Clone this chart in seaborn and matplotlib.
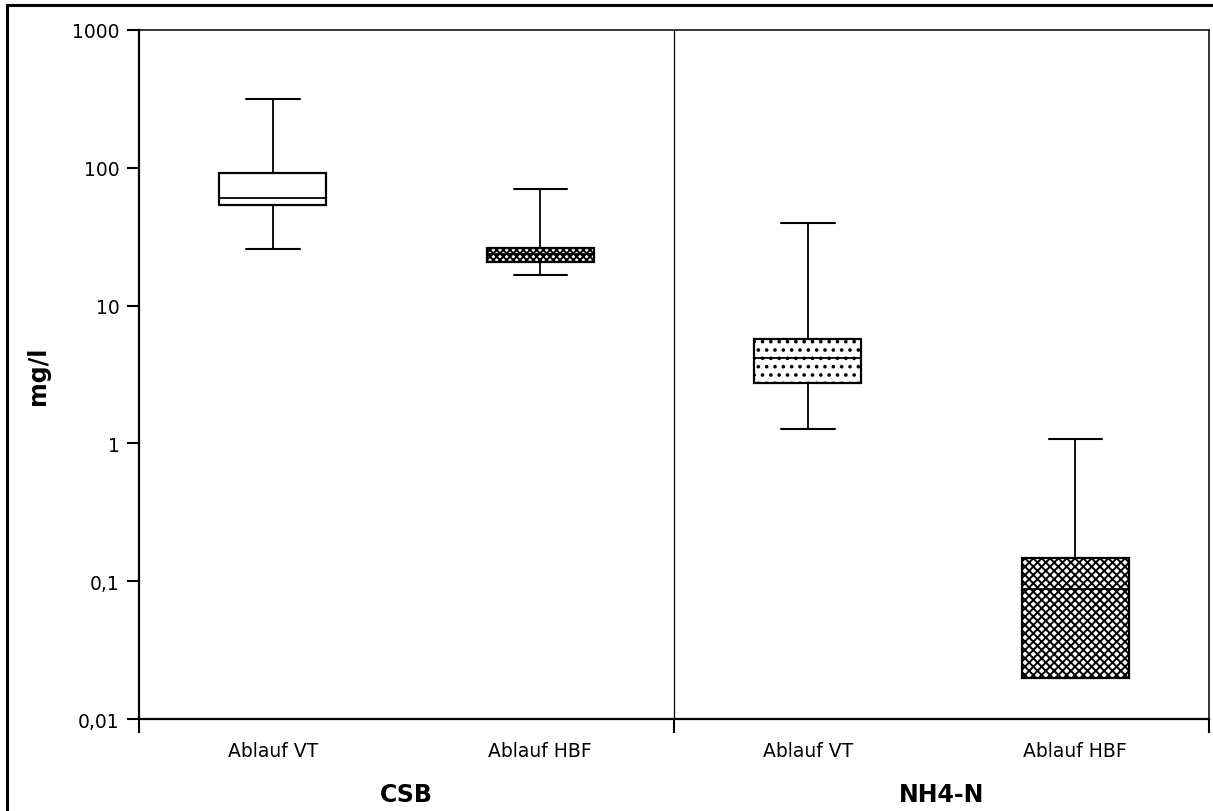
import matplotlib
matplotlib.use("Agg")
import matplotlib.pyplot as plt
from matplotlib.patches import Rectangle
from matplotlib.ticker import FixedLocator, NullLocator
import matplotlib.transforms as mtransforms
import numpy as np
import pandas as pd
import seaborn as sns

# Parameter groups and sampling points
parameters = ["CSB", "NH4-N"]
stations = ["Ablauf VT", "Ablauf HBF"]

# Five-number summaries (min, Q1, median, Q3, max) in mg/l
csb_vt = [25.7, 53.7, 60.4, 91.7, 316.0]
csb_hbf = [16.7, 20.8, 23.5, 26.2, 70.2]
nh4_vt = [1.27, 2.73, 4.17, 5.72, 39.5]
nh4_hbf = [0.02, 0.02, 0.088, 0.147, 1.08]

y_ticks = [0.01, 0.1, 1, 10, 100, 1000]
y_tick_labels = ["0,01", "0,1", "1", "10", "100", "1000"]

summaries = {
    ("CSB", "Ablauf VT"): csb_vt,
    ("CSB", "Ablauf HBF"): csb_hbf,
    ("NH4-N", "Ablauf VT"): nh4_vt,
    ("NH4-N", "Ablauf HBF"): nh4_hbf,
}

rows = []
order = []
for p in parameters:
    for s in stations:
        key = f"{p} | {s}"
        order.append(key)
        for v in summaries[(p, s)]:
            rows.append({"gruppe": key, "wert": v})
df = pd.DataFrame(rows)

sns.set_style("ticks", {"axes.edgecolor": "black", "text.color": "black",
                        "xtick.color": "black", "ytick.color": "black",
                        "axes.labelcolor": "black"})
plt.rcParams["font.family"] = ["DejaVu Sans"]
plt.rcParams["hatch.linewidth"] = 1.4
plt.rcParams["hatch.color"] = "black"

fig = plt.figure(figsize=(12.13, 8.12), dpi=100)
ax = fig.add_axes([139 / 1213, 1 - 720 / 812, (1209 - 139) / 1213, (720 - 31) / 812])

sns.boxplot(
    data=df, x="gruppe", y="wert", order=order, ax=ax,
    log_scale=True, whis=(0, 100), width=0.4, showfliers=False,
    color="white", linecolor="black", linewidth=1.4,
    boxprops=dict(facecolor="white", edgecolor="black", linewidth=1.6),
    medianprops=dict(color="black", linewidth=1.3),
    whiskerprops=dict(color="black", linewidth=1.3),
    capprops=dict(color="black", linewidth=1.5),
)

# Fill patterns per box
hatches = [None, "xxxxx", "..", "xxxx"]
boxes = sorted(
    [p for p in ax.patches if hasattr(p, "get_path")],
    key=lambda p: p.get_path().vertices[:, 0].mean(),
)
for patch, h in zip(boxes, hatches):
    patch.set_facecolor("white")
    if h:
        patch.set_hatch(h)

ax.set_ylim(0.01, 1000)
ax.set_xlim(-0.5, 3.5)
ax.yaxis.set_major_locator(FixedLocator(y_ticks))
ax.yaxis.set_minor_locator(NullLocator())
ax.set_yticklabels(y_tick_labels)
ax.tick_params(axis="y", which="major", length=9, width=1.5, pad=5,
               labelsize=13.5, direction="out", colors="black")

# Group boundaries as major ticks, station names on minor ticks
ax.xaxis.set_major_locator(FixedLocator([-0.5, 1.5, 3.5]))
ax.xaxis.set_minor_locator(FixedLocator([0, 1, 2, 3]))
ax.set_xticklabels([], minor=False)
ax.set_xticklabels(stations * 2, minor=True)
ax.tick_params(axis="x", which="major", length=10, width=1.5, direction="out",
               colors="black")
ax.tick_params(axis="x", which="minor", length=0, pad=16, labelsize=13.5,
               colors="black")

ax.set_xlabel("")
ax.set_ylabel("")

for side in ["left", "bottom"]:
    ax.spines[side].set_linewidth(1.6)
    ax.spines[side].set_color("black")
for side in ["top", "right"]:
    ax.spines[side].set_visible(True)
    ax.spines[side].set_linewidth(1.1)
    ax.spines[side].set_color("black")

ax.axvline(1.5, color="black", linewidth=0.9, zorder=0.5)

# Parameter names below each group
trans = mtransforms.blended_transform_factory(ax.transData, ax.transAxes)
for i, p in enumerate(parameters):
    ax.text(2 * i + 0.5, -0.109, p, transform=trans, ha="center", va="center",
            fontsize=17, fontweight="bold", color="black")

fig.text(38 / 1213, 1 - 376 / 812, "mg/l", rotation=90, ha="center",
         va="center", fontsize=17, fontweight="bold", color="black")

# Outer frame
fig.patches.append(Rectangle((7 / 1213, -0.05), 1.2, 1 - 6 / 812 + 0.05,
                             transform=fig.transFigure, fill=False,
                             edgecolor="black", linewidth=2.2))

fig.savefig("out.png", dpi=100)
